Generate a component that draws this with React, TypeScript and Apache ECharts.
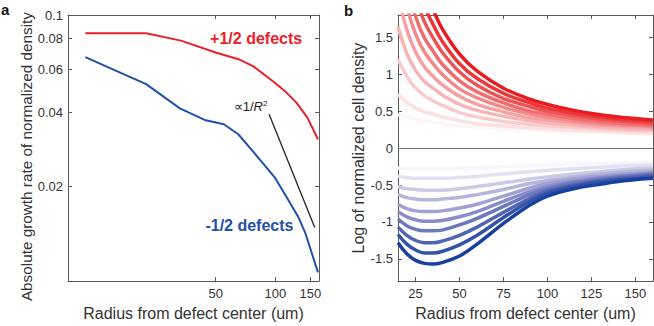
import React, { useEffect, useRef } from "react";
import * as echarts from "echarts";

// ---------- Panel a data ----------
const plusRadius = [11, 15, 22.3, 33.4, 50, 65.2, 77.5, 99, 112, 128, 145, 164];
const plusRate = [0.0842, 0.0842, 0.0842, 0.0786, 0.0703, 0.066, 0.0617, 0.053, 0.0488, 0.0438, 0.0381, 0.0311];
const minusRadius = [11, 22.3, 33, 44, 55, 65, 77.5, 99, 111.5, 131, 142, 164];
const minusRate = [0.0673, 0.0522, 0.0416, 0.0373, 0.0358, 0.0326, 0.0276, 0.0218, 0.0186, 0.0149, 0.0128, 0.0089];
const guideRadius = [93, 158];
const guideRate = [0.0393, 0.01356];
const xTicksA = [50, 100, 150];
const yTicksA = [0.02, 0.04, 0.06, 0.08, 0.1];

// ---------- Panel b data ----------
const radiusB = [15, 20, 25, 30, 35, 40, 50, 60, 75, 90, 100, 115, 130, 145, 160];
const positiveCurves = [
  [0.45, 0.42, 0.39, 0.37, 0.35, 0.33, 0.30, 0.28, 0.26, 0.24, 0.23, 0.22, 0.21, 0.20, 0.19],
  [0.73, 0.62, 0.54, 0.49, 0.46, 0.42, 0.37, 0.33, 0.30, 0.27, 0.26, 0.24, 0.23, 0.21, 0.20],
  [1.20, 0.97, 0.81, 0.71, 0.64, 0.58, 0.48, 0.42, 0.36, 0.32, 0.30, 0.28, 0.26, 0.24, 0.23],
  [1.64, 1.28, 1.05, 0.90, 0.81, 0.72, 0.59, 0.51, 0.43, 0.37, 0.34, 0.31, 0.28, 0.26, 0.25],
  [2.07, 1.60, 1.30, 1.10, 0.97, 0.86, 0.70, 0.59, 0.49, 0.41, 0.38, 0.34, 0.31, 0.29, 0.27],
  [2.50, 1.92, 1.54, 1.30, 1.14, 1.00, 0.80, 0.68, 0.55, 0.46, 0.42, 0.37, 0.33, 0.31, 0.29],
  [2.94, 2.23, 1.78, 1.49, 1.31, 1.14, 0.91, 0.76, 0.61, 0.50, 0.46, 0.40, 0.36, 0.33, 0.31],
  [3.41, 2.58, 2.05, 1.71, 1.49, 1.30, 1.03, 0.85, 0.67, 0.56, 0.50, 0.44, 0.39, 0.36, 0.33],
  [3.89, 2.93, 2.31, 1.92, 1.67, 1.45, 1.14, 0.94, 0.74, 0.61, 0.54, 0.47, 0.42, 0.38, 0.36],
  [4.40, 3.30, 2.60, 2.15, 1.87, 1.62, 1.27, 1.04, 0.81, 0.66, 0.59, 0.51, 0.45, 0.41, 0.38],
];
const negativeCurves = [
  [-0.27, -0.28, -0.28, -0.28, -0.28, -0.28, -0.27, -0.27, -0.25, -0.24, -0.23, -0.22, -0.21, -0.20, -0.19],
  [-0.38, -0.40, -0.41, -0.41, -0.41, -0.41, -0.40, -0.38, -0.35, -0.32, -0.30, -0.28, -0.26, -0.24, -0.23],
  [-0.52, -0.55, -0.56, -0.57, -0.57, -0.57, -0.55, -0.52, -0.47, -0.42, -0.39, -0.35, -0.32, -0.29, -0.27],
  [-0.63, -0.67, -0.69, -0.70, -0.70, -0.69, -0.67, -0.63, -0.56, -0.48, -0.44, -0.39, -0.35, -0.32, -0.30],
  [-0.76, -0.82, -0.85, -0.86, -0.86, -0.85, -0.81, -0.76, -0.65, -0.54, -0.48, -0.42, -0.38, -0.35, -0.32],
  [-0.86, -0.93, -0.97, -0.99, -0.99, -0.98, -0.93, -0.86, -0.72, -0.59, -0.52, -0.45, -0.40, -0.37, -0.34],
  [-0.96, -1.05, -1.10, -1.12, -1.12, -1.11, -1.04, -0.95, -0.79, -0.63, -0.55, -0.47, -0.42, -0.38, -0.36],
  [-1.07, -1.18, -1.25, -1.28, -1.28, -1.26, -1.18, -1.07, -0.87, -0.68, -0.58, -0.50, -0.44, -0.40, -0.37],
  [-1.17, -1.30, -1.38, -1.42, -1.42, -1.40, -1.31, -1.18, -0.94, -0.72, -0.61, -0.52, -0.46, -0.42, -0.39],
  [-1.28, -1.43, -1.52, -1.56, -1.57, -1.55, -1.46, -1.30, -1.02, -0.77, -0.65, -0.55, -0.49, -0.44, -0.41],
];
const xTicksB = [25, 50, 75, 100, 125, 150];
const yTicksB = [-1.5, -1, -0.5, 0, 0.5, 1, 1.5];

const FONT = '"Liberation Sans", Arial, Helvetica, sans-serif';
const AXIS = "#5a5a5a";
const TEXT = "#333";

type RGB = [number, number, number];
function ramp(stops: RGB[], t: number): string {
  const seg = stops.length - 1;
  const p = Math.min(seg - 1e-9, Math.max(0, t * seg));
  const i = Math.floor(p);
  const f = p - i;
  const a = stops[i];
  const b = stops[i + 1];
  const c = a.map((v, k) => Math.round(v + (b[k] - v) * f));
  return `rgb(${c[0]},${c[1]},${c[2]})`;
}
const redStops: RGB[] = [[253, 246, 246], [244, 150, 150], [232, 28, 32]];
const blueStops: RGB[] = [[246, 246, 252], [150, 150, 205], [24, 64, 158]];

function axisBase(gridIndex: number) {
  return {
    gridIndex,
    axisLine: { show: true, onZero: false, lineStyle: { color: AXIS, width: 1 } },
    axisTick: { show: true, inside: true, length: 4, lineStyle: { color: AXIS } },
    splitLine: { show: false },
    minorTick: { show: false },
    axisLabel: { color: TEXT, fontSize: 13, fontFamily: FONT },
    nameTextStyle: { color: TEXT, fontSize: 16, fontFamily: FONT },
  };
}

export default function App() {
  const ref = useRef<HTMLDivElement>(null);
  useEffect(() => {
    document.body.style.margin = "0";
    if (!ref.current) return;
    const chart = echarts.init(ref.current, null, { renderer: "svg" });

    const bSeries: any[] = [];
    positiveCurves.forEach((curve, k) => {
      bSeries.push({
        type: "line",
        xAxisIndex: 2,
        yAxisIndex: 2,
        smooth: 0.4,
        showSymbol: false,
        symbol: "none",
        silent: true,
        lineStyle: { width: 3.5, color: ramp(redStops, k / (positiveCurves.length - 1)) },
        data: radiusB.map((r, i) => [r, curve[i]]),
      });
    });
    negativeCurves.forEach((curve, k) => {
      bSeries.push({
        type: "line",
        xAxisIndex: 2,
        yAxisIndex: 2,
        smooth: 0.4,
        showSymbol: false,
        symbol: "none",
        silent: true,
        lineStyle: { width: 3.5, color: ramp(blueStops, k / (negativeCurves.length - 1)) },
        data: radiusB.map((r, i) => [r, curve[i]]),
      });
    });
    bSeries[0].markLine = {
      silent: true,
      symbol: "none",
      label: { show: false },
      lineStyle: { color: "#6e6e6e", width: 1.2, type: "solid" },
      data: [{ yAxis: 0 }],
    };

    const option: any = {
      animation: false,
      textStyle: { fontFamily: FONT },
      grid: [
        { left: 68, right: 335, top: 15, bottom: 44 },
        { left: 398, right: 1, top: 15, bottom: 44 },
      ],
      xAxis: [
        {
          ...axisBase(0),
          type: "log",
          min: 9,
          max: 166,
          position: "bottom",
          axisTick: { show: true, inside: true, length: 4, lineStyle: { color: AXIS }, customValues: xTicksA },
          axisLabel: { color: TEXT, fontSize: 13, fontFamily: FONT, margin: 6, customValues: xTicksA },
          name: "Radius from defect center (um)",
          nameLocation: "middle",
          nameGap: 23,
        },
        {
          ...axisBase(0),
          type: "log",
          min: 9,
          max: 166,
          position: "top",
          axisTick: { show: true, inside: true, length: 4, lineStyle: { color: AXIS }, customValues: xTicksA },
          axisLabel: { show: false },
        },
        {
          ...axisBase(1),
          type: "value",
          min: 15,
          max: 160,
          position: "bottom",
          axisTick: { show: true, inside: true, length: 4, lineStyle: { color: AXIS }, customValues: xTicksB },
          axisLabel: { color: TEXT, fontSize: 13, fontFamily: FONT, margin: 6, customValues: xTicksB },
          name: "Radius from defect center (um)",
          nameLocation: "middle",
          nameGap: 23,
        },
        {
          ...axisBase(1),
          type: "value",
          min: 15,
          max: 160,
          position: "top",
          axisTick: { show: true, inside: true, length: 4, lineStyle: { color: AXIS }, customValues: xTicksB },
          axisLabel: { show: false },
        },
      ],
      yAxis: [
        {
          ...axisBase(0),
          type: "log",
          min: 0.0082,
          max: 0.1,
          position: "left",
          axisTick: { show: true, inside: true, length: 4, lineStyle: { color: AXIS }, customValues: yTicksA },
          axisLabel: { color: TEXT, fontSize: 13, fontFamily: FONT, margin: 5, customValues: yTicksA },
          name: "Absolute growth rate of normalized density",
          nameLocation: "middle",
          nameGap: 22,
          nameTextStyle: { color: TEXT, fontSize: 15.3, fontFamily: FONT, padding: [0, 17, 0, 0] },
        },
        {
          ...axisBase(0),
          type: "log",
          min: 0.0082,
          max: 0.1,
          position: "right",
          axisTick: { show: true, inside: true, length: 4, lineStyle: { color: AXIS }, customValues: yTicksA },
          axisLabel: { show: false },
        },
        {
          ...axisBase(1),
          type: "value",
          min: -1.8,
          max: 1.8,
          position: "left",
          axisTick: { show: true, inside: true, length: 4, lineStyle: { color: AXIS }, customValues: yTicksB },
          axisLabel: { color: TEXT, fontSize: 13, fontFamily: FONT, margin: 5, customValues: yTicksB },
          name: "Log of normalized cell density",
          nameLocation: "middle",
          nameGap: 26,
        },
        {
          ...axisBase(1),
          type: "value",
          min: -1.8,
          max: 1.8,
          position: "right",
          axisTick: { show: true, inside: true, length: 4, lineStyle: { color: AXIS }, customValues: yTicksB },
          axisLabel: { show: false },
        },
      ],
      series: [
        {
          type: "line",
          xAxisIndex: 0,
          yAxisIndex: 0,
          showSymbol: false,
          symbol: "none",
          lineStyle: { width: 2, color: "#e8222a" },
          data: plusRadius.map((r, i) => [r, plusRate[i]]),
        },
        {
          type: "line",
          xAxisIndex: 0,
          yAxisIndex: 0,
          showSymbol: false,
          symbol: "none",
          lineStyle: { width: 2, color: "#2350a8" },
          data: minusRadius.map((r, i) => [r, minusRate[i]]),
        },
        {
          type: "line",
          xAxisIndex: 0,
          yAxisIndex: 0,
          showSymbol: false,
          symbol: "none",
          lineStyle: { width: 1.3, color: "#222" },
          data: guideRadius.map((r, i) => [r, guideRate[i]]),
        },
        ...bSeries,
      ],
    };
    chart.setOption(option);

    const p1 = chart.convertToPixel({ gridIndex: 0 }, [80, 0.0803]) as number[];
    const p2 = chart.convertToPixel({ gridIndex: 0 }, [74, 0.0138]) as number[];
    const p3 = chart.convertToPixel({ gridIndex: 0 }, [75, 0.0424]) as number[];

    chart.setOption({
      graphic: [
        {
          type: "text",
          left: 1,
          top: 2,
          style: { text: "a", font: `bold 15px ${FONT}`, fill: "#111" },
        },
        {
          type: "text",
          left: 344,
          top: 3,
          style: { text: "b", font: `bold 15px ${FONT}`, fill: "#111" },
        },
        {
          type: "text",
          x: p1[0],
          y: p1[1],
          style: {
            text: "+1/2 defects",
            font: `bold 16px ${FONT}`,
            fill: "#e8222a",
            align: "center",
            verticalAlign: "middle",
          },
        },
        {
          type: "text",
          x: p2[0],
          y: p2[1],
          style: {
            text: "-1/2 defects",
            font: `bold 16px ${FONT}`,
            fill: "#2350a8",
            align: "center",
            verticalAlign: "middle",
          },
        },
        {
          type: "text",
          x: p3[0],
          y: p3[1],
          style: {
            text: "∝1/{i|R}{s|2}",
            fontFamily: FONT,
            fontSize: 13,
            fill: "#222",
            align: "center",
            verticalAlign: "middle",
            rich: {
              i: { fontStyle: "italic", fontSize: 13, fontFamily: FONT, fill: "#222" },
              s: { fontSize: 8, fontFamily: FONT, verticalAlign: "top", padding: [0, 0, 6, 0], fill: "#222" },
            },
          },
        },
      ],
    });

    return () => chart.dispose();
  }, []);
  return <div ref={ref} style={{ width: 654, height: 326 }} />;
}
